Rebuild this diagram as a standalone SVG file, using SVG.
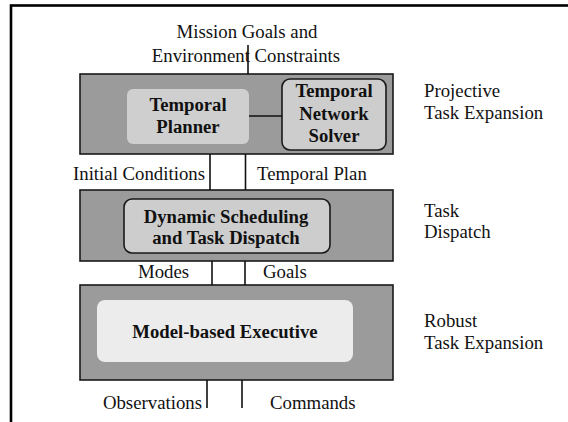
<svg xmlns="http://www.w3.org/2000/svg" width="568" height="422" viewBox="0 0 568 422">
<style>
text{font-family:"Liberation Serif","Times New Roman",serif;font-size:18.8px;fill:#111}
.b{font-weight:bold;font-size:18.7px;text-anchor:middle}
.m{text-anchor:middle}
.e{text-anchor:end}
.layer{fill:#9b9b9b;stroke:#1a1a1a;stroke-width:1.6}
.mod{fill:#cdcdcd;stroke:#1a1a1a;stroke-width:1.6}
.ln{stroke:#111;stroke-width:1.6;fill:none}
</style>
<rect x="11" y="5.5" width="620" height="500" fill="#fff" stroke="#000" stroke-width="2.6"/>
<g id="layer-projective">
<rect class="layer" x="80" y="74" width="313" height="80"/>
<text x="424" y="97">Projective</text>
<text x="424" y="119">Task Expansion</text>
</g>
<g id="temporal-planner">
<rect x="127" y="89" width="122" height="55" rx="6" fill="#cfcfcf"/>
<text class="b" x="188" y="110.5">Temporal</text>
<text class="b" x="188" y="133">Planner</text>
</g>
<g id="temporal-network-solver">
<rect class="mod" x="282" y="79" width="104" height="71" rx="8"/>
<text class="b" x="334" y="97">Temporal</text>
<text class="b" x="334" y="119.5">Network</text>
<text class="b" x="334" y="142">Solver</text>
</g>
<g id="layer-dispatch">
<rect class="layer" x="80" y="190" width="313" height="71"/>
<text x="424" y="217">Task</text>
<text x="424" y="238">Dispatch</text>
</g>
<g id="dynamic-scheduling">
<rect class="mod" x="124" y="199" width="206" height="54" rx="8"/>
<text class="b" x="226" y="222.5">Dynamic Scheduling</text>
<text class="b" x="226" y="243.5">and Task Dispatch</text>
</g>
<g id="layer-robust">
<rect class="layer" x="80" y="285" width="313" height="95"/>
<text x="424" y="327">Robust</text>
<text x="424" y="348.5">Task Expansion</text>
</g>
<g id="model-based-executive">
<rect x="97" y="300" width="256" height="62" rx="8" fill="#ececec"/>
<text class="b" x="225" y="338">Model-based Executive</text>
</g>
<g id="connectors">
<line class="ln" x1="248" y1="45" x2="248" y2="74"/>
<line class="ln" x1="249" y1="116" x2="282" y2="116"/>
<line class="ln" x1="210" y1="154" x2="210" y2="190"/>
<line class="ln" x1="245.5" y1="154" x2="245.5" y2="190"/>
<line class="ln" x1="212" y1="261" x2="212" y2="285"/>
<line class="ln" x1="245" y1="261" x2="245" y2="285"/>
<line class="ln" x1="207" y1="380" x2="207" y2="408"/>
<line class="ln" x1="242" y1="380" x2="242" y2="408"/>
</g>
<g id="labels">
<text class="m" x="247" y="38">Mission Goals and</text>
<text class="m" x="246" y="62">Environment Constraints</text>
<text class="e" x="205" y="180">Initial Conditions</text>
<text x="257" y="180">Temporal Plan</text>
<text x="138" y="278">Modes</text>
<text x="263" y="278">Goals</text>
<text class="e" x="202" y="409">Observations</text>
<text x="270" y="409">Commands</text>
</g>
</svg>
